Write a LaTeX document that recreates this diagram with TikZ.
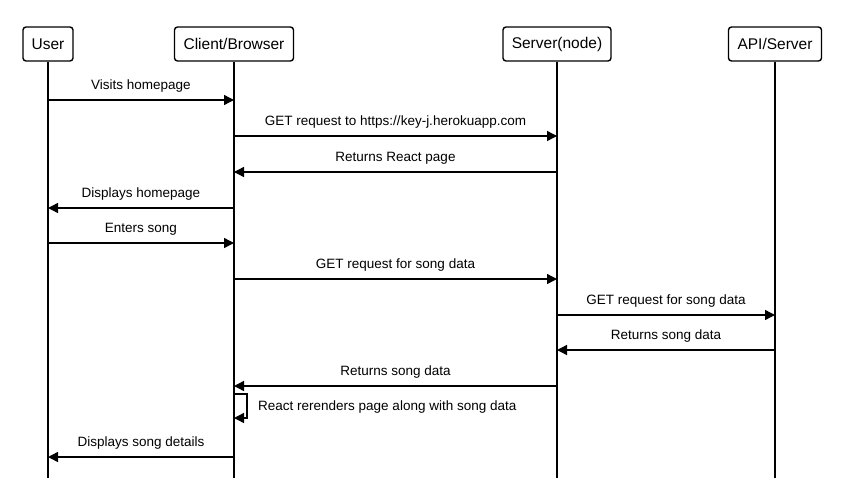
\documentclass[tikz,border=0pt]{standalone}
\usepackage{fontspec}
\setmainfont{Liberation Sans}
\usetikzlibrary{arrows.meta}
\begin{document}
\begin{tikzpicture}[x=1pt,y=-1pt,
  actor/.style={draw,line width=1.4pt,rounded corners=3pt,minimum height=34pt,inner xsep=0pt,font=\fontsize{15.5}{18}\selectfont},
  life/.style={line width=1.4pt},
  msg/.style={line width=1.4pt,-{Triangle[length=10pt,width=10pt]}},
  txt/.style={font=\fontsize{13.5}{16}\selectfont,inner sep=0pt},
  lbl/.style={txt,yshift=14pt}]
\useasboundingbox (0,0) rectangle (847,501);
% actors
\node[actor,minimum width=50pt] (user) at (48,44) {User};
\node[actor,minimum width=119pt] (client) at (234,44) {Client/Browser};
\node[actor,minimum width=108pt] (server) at (557,44) {Server(node)};
\node[actor,minimum width=93pt] (api) at (775,44) {API/Server};
% lifeline ends
\coordinate (ue) at (48,478);
\coordinate (ce) at (234,478);
\coordinate (se) at (557,478);
\coordinate (ae) at (775,478);
\draw[life] (user) -- (ue);
\draw[life] (client) -- (ce);
\draw[life] (server) -- (se);
\draw[life] (api) -- (ae);
% message points
\coordinate (u1) at (48,100);  \coordinate (c1) at (234,100);
\coordinate (c2) at (234,136); \coordinate (s2) at (557,136);
\coordinate (s3) at (557,172); \coordinate (c3) at (234,172);
\coordinate (c4) at (234,208); \coordinate (u4) at (48,208);
\coordinate (u5) at (48,243);  \coordinate (c5) at (234,243);
\coordinate (c6) at (234,279); \coordinate (s6) at (557,279);
\coordinate (s7) at (557,315); \coordinate (a7) at (775,315);
\coordinate (a8) at (775,350); \coordinate (s8) at (557,350);
\coordinate (s9) at (557,386); \coordinate (c9) at (234,386);
\coordinate (c10) at (234,394); \coordinate (c11) at (234,418);
\coordinate (c12) at (234,457); \coordinate (u12) at (48,457);
% messages
\draw[msg] (u1) -- node[lbl] {Visits homepage} (c1);
\draw[msg] (c2) -- node[lbl] {GET request to https://key-j.herokuapp.com} (s2);
\draw[msg] (s3) -- node[lbl] {Returns React page} (c3);
\draw[msg] (c4) -- node[lbl] {Displays homepage} (u4);
\draw[msg] (u5) -- node[lbl] {Enters song} (c5);
\draw[msg] (c6) -- node[lbl] {GET request for song data} (s6);
\draw[msg] (s7) -- node[lbl] {GET request for song data} (a7);
\draw[msg] (a8) -- node[lbl] {Returns song data} (s8);
\draw[msg] (s9) -- node[lbl] {Returns song data} (c9);
\draw[msg] (c10) -- ++(13,0) |- (c11);
\node[txt,anchor=west] (selflbl) at (258,407) {React rerenders page along with song data};
\draw[msg] (c12) -- node[lbl] {Displays song details} (u12);
\end{tikzpicture}
\end{document}
